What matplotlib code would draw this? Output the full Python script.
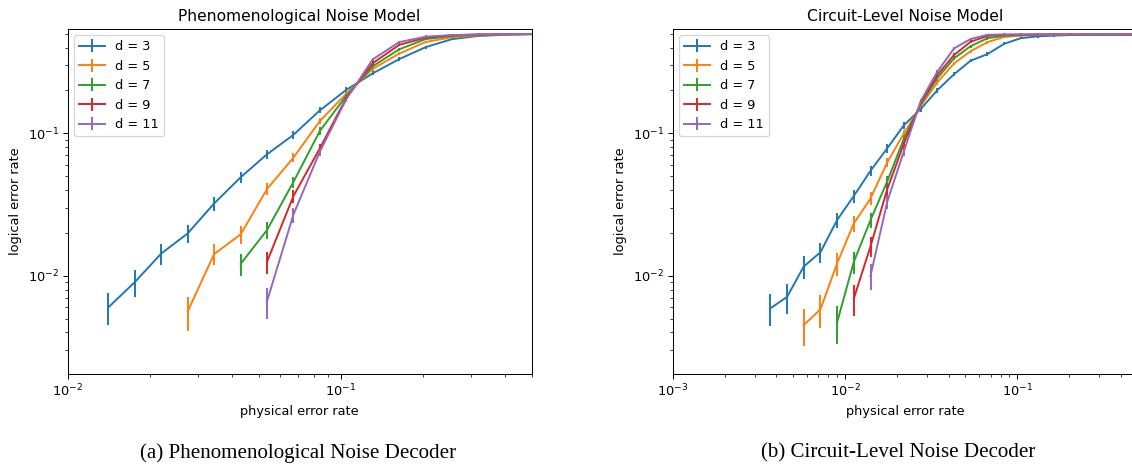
import matplotlib
matplotlib.use("Agg")
import matplotlib.pyplot as plt

# ---------------- data ----------------
distances = [3, 5, 7, 9, 11]

x_phen = [0.0141, 0.0176, 0.0220, 0.0275, 0.0344, 0.0430, 0.0537, 0.0671, 0.0839,
          0.1049, 0.1311, 0.1638, 0.2048, 0.2560, 0.3200, 0.4000, 0.5000]
phen_start = [0, 3, 5, 6, 6]
phen_d3 = [0.0060, 0.0090, 0.0143, 0.0198, 0.0322, 0.0491, 0.0712, 0.0975, 0.145,
           0.202, 0.264, 0.332, 0.403, 0.459, 0.483, 0.492, 0.497]
phen_d5 = [0.0056, 0.0142, 0.0195, 0.0406, 0.0674, 0.122, 0.190, 0.284, 0.363,
           0.438, 0.473, 0.488, 0.494, 0.497]
phen_d7 = [0.0121, 0.0209, 0.0455, 0.104, 0.184, 0.296, 0.389, 0.459, 0.483,
           0.492, 0.496, 0.498]
phen_d9 = [0.0125, 0.0362, 0.0785, 0.178, 0.311, 0.418, 0.470, 0.488, 0.494,
           0.497, 0.498]
phen_d11 = [0.0066, 0.0268, 0.0745, 0.174, 0.331, 0.437, 0.477, 0.490, 0.495,
            0.498, 0.499]
phen_e3 = [0.0015, 0.0019, 0.0024, 0.0028, 0.0035, 0.0043, 0.0051, 0.0059, 0.0070,
           0.0080, 0.0088, 0.0094, 0.0098, 0.0100, 0.0100, 0.0100, 0.0100]
phen_e5 = [0.0015, 0.0024, 0.0028, 0.0039, 0.0050, 0.0066, 0.0078, 0.0090, 0.0096,
           0.0099, 0.0100, 0.0100, 0.0100, 0.0100]
phen_e7 = [0.0022, 0.0029, 0.0042, 0.0061, 0.0078, 0.0091, 0.0098, 0.0100, 0.0100,
           0.0100, 0.0100, 0.0100]
phen_e9 = [0.0022, 0.0037, 0.0054, 0.0076, 0.0092, 0.0099, 0.0100, 0.0100, 0.0100,
           0.0100, 0.0100]
phen_e11 = [0.0016, 0.0032, 0.0053, 0.0076, 0.0094, 0.0099, 0.0100, 0.0100, 0.0100,
            0.0100, 0.0100]

x_circ = [0.00369, 0.00461, 0.00576, 0.00720, 0.00900, 0.01125, 0.01407, 0.01759,
          0.02199, 0.02749, 0.03436, 0.04295, 0.05369, 0.06711, 0.08389, 0.10486,
          0.13107, 0.16384, 0.2048, 0.256, 0.32, 0.4, 0.5]
circ_start = [0, 2, 4, 5, 6]
circ_d3 = [0.0059, 0.0071, 0.0116, 0.0146, 0.0246, 0.0363, 0.0546, 0.0785, 0.114,
           0.148, 0.201, 0.260, 0.324, 0.360, 0.425, 0.466, 0.480, 0.486, 0.490,
           0.491, 0.492, 0.496, 0.495]
circ_d5 = [0.0045, 0.0058, 0.0122, 0.0233, 0.0349, 0.0625, 0.100, 0.155, 0.228,
           0.310, 0.378, 0.437, 0.475, 0.486, 0.490, 0.492, 0.494, 0.495, 0.494,
           0.493, 0.492]
circ_d7 = [0.0047, 0.0125, 0.0246, 0.0460, 0.092, 0.160, 0.244, 0.336, 0.410,
           0.465, 0.485, 0.490, 0.493, 0.494, 0.493, 0.494, 0.492, 0.495, 0.493]
circ_d9 = [0.0069, 0.0161, 0.0405, 0.085, 0.163, 0.257, 0.355, 0.440, 0.483,
           0.492, 0.494, 0.495, 0.496, 0.494, 0.495, 0.494, 0.494, 0.492]
circ_d11 = [0.0100, 0.0331, 0.075, 0.168, 0.271, 0.395, 0.460, 0.492, 0.495,
            0.494, 0.495, 0.494, 0.496, 0.495, 0.495, 0.494, 0.496]
circ_e3 = [0.0015, 0.0017, 0.0021, 0.0024, 0.0031, 0.0037, 0.0045, 0.0054, 0.0064,
           0.0071, 0.0080, 0.0088, 0.0094, 0.0096, 0.0099, 0.0100, 0.0100, 0.0100,
           0.0100, 0.0100, 0.0100, 0.0100, 0.0100]
circ_e5 = [0.0013, 0.0015, 0.0022, 0.0030, 0.0037, 0.0048, 0.0060, 0.0072, 0.0084,
           0.0092, 0.0097, 0.0099, 0.0100, 0.0100, 0.0100, 0.0100, 0.0100, 0.0100,
           0.0100, 0.0100, 0.0100]
circ_e7 = [0.0014, 0.0022, 0.0031, 0.0042, 0.0058, 0.0073, 0.0086, 0.0094, 0.0098,
           0.0100, 0.0100, 0.0100, 0.0100, 0.0100, 0.0100, 0.0100, 0.0100, 0.0100,
           0.0100]
circ_e9 = [0.0017, 0.0025, 0.0039, 0.0056, 0.0074, 0.0087, 0.0096, 0.0099, 0.0100,
           0.0100, 0.0100, 0.0100, 0.0100, 0.0100, 0.0100, 0.0100, 0.0100, 0.0100]
circ_e11 = [0.0020, 0.0036, 0.0053, 0.0075, 0.0089, 0.0098, 0.0100, 0.0100, 0.0100,
            0.0100, 0.0100, 0.0100, 0.0100, 0.0100, 0.0100, 0.0100, 0.0100]

phen_y = [phen_d3, phen_d5, phen_d7, phen_d9, phen_d11]
phen_e = [phen_e3, phen_e5, phen_e7, phen_e9, phen_e11]
circ_y = [circ_d3, circ_d5, circ_d7, circ_d9, circ_d11]
circ_e = [circ_e3, circ_e5, circ_e7, circ_e9, circ_e11]

# ---------------- figure ----------------
W, H, DPI = 1132, 469, 93
fig = plt.figure(figsize=(W / DPI, H / DPI), dpi=DPI)

ax1 = fig.add_axes([67.7 / W, 95 / H, 463.8 / W, 345.3 / H])
ax2 = fig.add_axes([672.7 / W, 95 / H, 465.0 / W, 345.3 / H])

def draw(ax, xs, ys, es, starts, title, xlim):
    for d, y, e, s in zip(distances, ys, es, starts):
        ax.errorbar(xs[s:s + len(y)], y, yerr=e, label=f"d = {d}")
    ax.set_xscale("log")
    ax.set_yscale("log")
    ax.set_xlim(*xlim)
    ax.set_ylim(0.00204, 0.543)
    ax.set_title(title)
    ax.set_xlabel("physical error rate")
    ax.set_ylabel("logical error rate")
    ax.legend(loc="upper left")

draw(ax1, x_phen, phen_y, phen_e, phen_start, "Phenomenological Noise Model", (0.01, 0.5))
draw(ax2, x_circ, circ_y, circ_e, circ_start, "Circuit-Level Noise Model", (0.001, 0.5))

fig.text(298 / W, 1 - 453 / H, "(a) Phenomenological Noise Decoder",
         ha="center", va="center", family="Liberation Serif", fontsize=16.3)
fig.text(898 / W, 1 - 453 / H, "(b) Circuit-Level Noise Decoder",
         ha="center", va="center", family="Liberation Serif", fontsize=16.3)

fig.savefig("out.png", dpi=DPI)
